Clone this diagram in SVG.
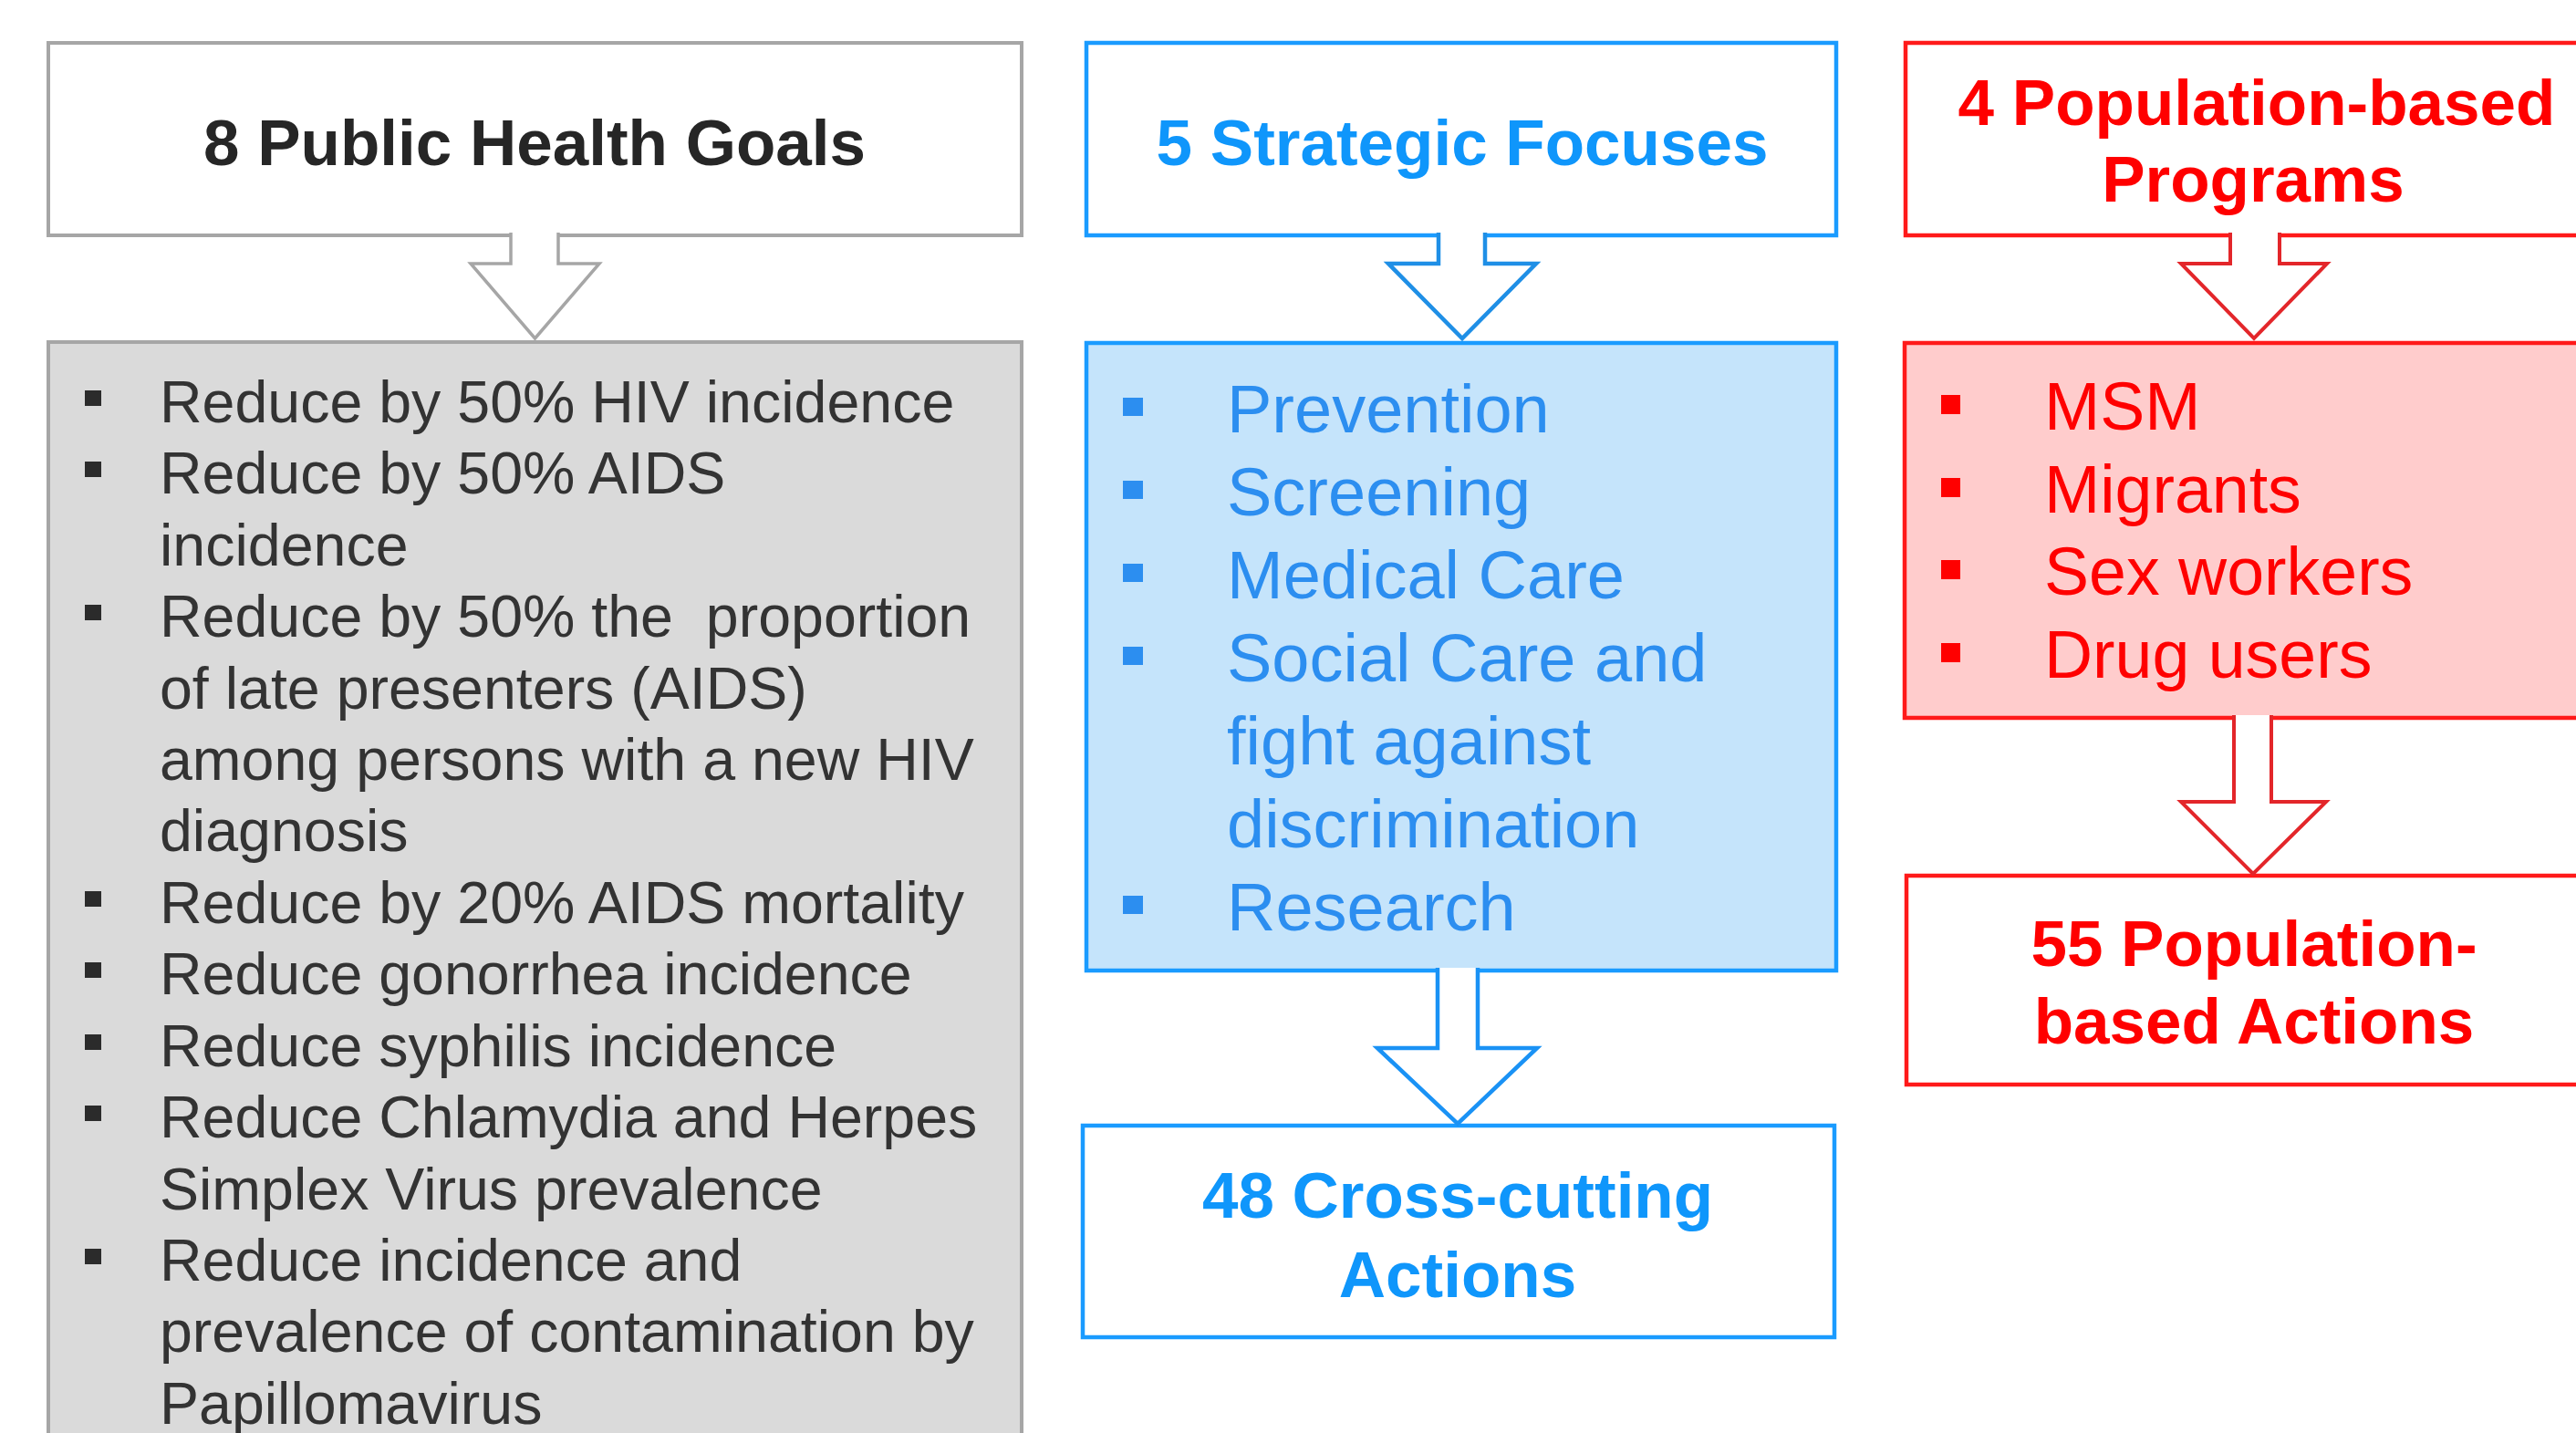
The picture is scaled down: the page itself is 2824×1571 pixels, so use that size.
<svg xmlns="http://www.w3.org/2000/svg" width="2824" height="1571" viewBox="0 0 2824 1571">
<style>
text{font-family:"Liberation Sans",Arial,sans-serif}
.hd{font-weight:bold;font-size:71px;text-anchor:middle}
.g{fill:#333333;font-size:64.5px}
.b{fill:#2c8ef0;font-size:74px}
.r{fill:#ff0000;font-size:73.5px}
.gbox{stroke:#a6a6a6;stroke-width:4}
.bbox{stroke:#1a9bff;stroke-width:4.5}
.rbox{stroke:#ff1a1a;stroke-width:4.5}
.arr{fill:#ffffff}
</style>
<rect width="2824" height="1571" fill="#ffffff"/>
<g id="goals-header">
<rect class="gbox" x="53" y="47" width="1067" height="211" fill="#ffffff"/>
<text class="hd" x="586" y="181" fill="#262626">8 Public Health Goals</text>
</g>
<g id="goals-list">
<rect class="gbox" x="53" y="375" width="1067" height="1240" fill="#dadada"/>
<g fill="#2b2b2b">
<rect x="93" y="428" width="18" height="17"/>
<rect x="93" y="506" width="18" height="17"/>
<rect x="93" y="663" width="18" height="17"/>
<rect x="93" y="977" width="18" height="17"/>
<rect x="93" y="1055" width="18" height="17"/>
<rect x="93" y="1134" width="18" height="17"/>
<rect x="93" y="1212" width="18" height="17"/>
<rect x="93" y="1369" width="18" height="17"/>
</g>
<text class="g" x="175" y="463">Reduce by 50% HIV incidence</text>
<text class="g" x="175" y="541">Reduce by 50% AIDS</text>
<text class="g" x="175" y="620">incidence</text>
<text class="g" x="175" y="698">Reduce by 50% the&#160; proportion</text>
<text class="g" x="175" y="777">of late presenters (AIDS)</text>
<text class="g" x="175" y="855">among persons with a new HIV</text>
<text class="g" x="175" y="933">diagnosis</text>
<text class="g" x="175" y="1012">Reduce by 20% AIDS mortality</text>
<text class="g" x="175" y="1090">Reduce gonorrhea incidence</text>
<text class="g" x="175" y="1169">Reduce syphilis incidence</text>
<text class="g" x="175" y="1247">Reduce Chlamydia and Herpes</text>
<text class="g" x="175" y="1326">Simplex Virus prevalence</text>
<text class="g" x="175" y="1404">Reduce incidence and</text>
<text class="g" x="175" y="1482">prevalence of contamination by</text>
<text class="g" x="175" y="1561">Papillomavirus</text>
</g>
<g id="focuses-header">
<rect class="bbox" x="1191" y="47" width="822" height="211" fill="#ffffff"/>
<text class="hd" x="1603" y="181" fill="#0f96fb">5 Strategic Focuses</text>
</g>
<g id="focuses-list">
<rect class="bbox" x="1191" y="376" width="822" height="688" fill="#c5e4fb"/>
<g fill="#2c8ef0">
<rect x="1231" y="436" width="22" height="20"/>
<rect x="1231" y="527" width="22" height="20"/>
<rect x="1231" y="618" width="22" height="20"/>
<rect x="1231" y="709" width="22" height="20"/>
<rect x="1231" y="982" width="22" height="20"/>
</g>
<text class="b" x="1345" y="474">Prevention</text>
<text class="b" x="1345" y="565">Screening</text>
<text class="b" x="1345" y="656">Medical Care</text>
<text class="b" x="1345" y="747">Social Care and</text>
<text class="b" x="1345" y="838">fight against</text>
<text class="b" x="1345" y="929">discrimination</text>
<text class="b" x="1345" y="1020">Research</text>
</g>
<g id="cross-cutting">
<rect class="bbox" x="1187" y="1234" width="824" height="232" fill="#ffffff"/>
<text class="hd" x="1598" y="1335" fill="#0f96fb">48 Cross-cutting</text>
<text class="hd" x="1598" y="1422" fill="#0f96fb">Actions</text>
</g>
<g id="programs-header">
<rect class="rbox" x="2089" y="47" width="800" height="211" fill="#ffffff"/>
<text class="hd" x="2474" y="137" fill="#ff0000">4 Population-based</text>
<text class="hd" x="2470" y="221" fill="#ff0000">Programs</text>
</g>
<g id="programs-list">
<rect class="rbox" x="2088" y="376" width="800" height="411" fill="#ffcccc"/>
<g fill="#ff0000">
<rect x="2128" y="433" width="21" height="21"/>
<rect x="2128" y="524" width="21" height="21"/>
<rect x="2128" y="614" width="21" height="21"/>
<rect x="2128" y="705" width="21" height="21"/>
</g>
<text class="r" x="2241" y="471">MSM</text>
<text class="r" x="2241" y="562">Migrants</text>
<text class="r" x="2241" y="652">Sex workers</text>
<text class="r" x="2241" y="743">Drug users</text>
</g>
<g id="population-actions">
<rect class="rbox" x="2090" y="960" width="800" height="229" fill="#ffffff"/>
<text class="hd" x="2471" y="1059" fill="#ff0000">55 Population-</text>
<text class="hd" x="2471" y="1144" fill="#ff0000">based Actions</text>
</g>
<g id="connectors">
<path class="arr" d="M560,255 V289 H516 L586.5,371 L657,289 H612 V255" stroke="#a6a6a6" stroke-width="3.5"/>
<path class="arr" d="M1577,255 V289 H1522 L1603,371 L1684,289 H1628 V255" stroke="#1f8fe6" stroke-width="4.5"/>
<path class="arr" d="M1576,1061 V1149 H1510 L1598,1232 L1685,1149 H1620 V1061" stroke="#1a92f5" stroke-width="4.5"/>
<path class="arr" d="M2445,255 V289 H2391 L2471,371 L2551,289 H2499 V255" stroke="#e3262a" stroke-width="4"/>
<path class="arr" d="M2449,784 V879 H2391 L2470,958 L2550,879 H2490 V784" stroke="#e3262a" stroke-width="4"/>
</g>
</svg>
